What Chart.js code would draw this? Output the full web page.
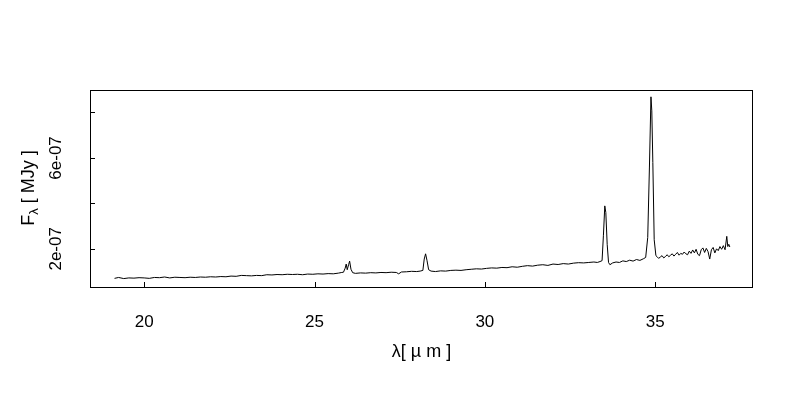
<!DOCTYPE html>
<html>
<head>
<meta charset="utf-8">
<script src="https://cdn.jsdelivr.net/npm/chart.js@4.4.1/dist/chart.umd.min.js"></script>
<style>
  html, body { margin: 0; background: #fff; }
  #wrap { width: 800px; height: 400px; }
</style>
</head>
<body>
<div id="wrap"><canvas id="spec"></canvas></div>
<script>
// spectrum: wavelength in micron, flux in units of 1e-07 MJy
const wavelength = [
  19.13, 19.25, 19.4, 19.55, 19.7, 19.85, 20.0, 20.15, 20.3, 20.45, 20.6, 20.75, 20.9, 21.05, 21.2, 21.35, 21.5, 21.65, 21.8, 21.95,
  22.1, 22.25, 22.4, 22.55, 22.7, 22.85, 23.0, 23.15, 23.3, 23.45, 23.6, 23.75, 23.9, 24.05, 24.2, 24.35, 24.5, 24.65, 24.8, 24.95,
  25.1, 25.25, 25.4, 25.55, 25.7, 25.8, 25.85, 25.9, 25.93, 25.96, 26.0, 26.03, 26.07, 26.12, 26.2, 26.35, 26.5, 26.65, 26.8, 26.95,
  27.1, 27.25, 27.4, 27.47, 27.55, 27.7, 27.85, 28.0, 28.1, 28.18, 28.22, 28.26, 28.3, 28.35, 28.42, 28.55, 28.7, 28.85, 29.0, 29.15,
  29.3, 29.45, 29.6, 29.75, 29.9, 30.05, 30.2, 30.35, 30.5, 30.65, 30.8, 30.95, 31.1, 31.25, 31.4, 31.55, 31.7, 31.85, 32.0, 32.15,
  32.3, 32.45, 32.6, 32.75, 32.9, 33.05, 33.2, 33.3, 33.38, 33.44, 33.48, 33.52, 33.55, 33.59, 33.63, 33.67, 33.75, 33.85, 33.95, 34.05,
  34.15, 34.25, 34.35, 34.45, 34.55, 34.65, 34.72, 34.78, 34.83, 34.875, 34.9, 34.93, 34.97, 35.02,
  35.05, 35.1, 35.15, 35.2, 35.25, 35.3, 35.35, 35.4, 35.45, 35.5, 35.55, 35.6, 35.65, 35.7, 35.75, 35.8, 35.85, 35.9, 35.95, 36.0,
  36.05, 36.1, 36.15, 36.2, 36.25, 36.3, 36.35, 36.4, 36.45, 36.5, 36.55, 36.6, 36.65, 36.7, 36.75, 36.8, 36.85, 36.9, 36.95, 37.0,
  37.05, 37.1, 37.13, 37.16, 37.19
];
const fluxE7 = [
  0.70, 0.74, 0.69, 0.72, 0.71, 0.73, 0.72, 0.70, 0.74, 0.73, 0.76, 0.72, 0.75, 0.74, 0.73, 0.75, 0.74, 0.76, 0.75, 0.77,
  0.76, 0.78, 0.77, 0.80, 0.79, 0.83, 0.82, 0.81, 0.83, 0.82, 0.86, 0.85, 0.87, 0.86, 0.88, 0.87, 0.88, 0.86, 0.89, 0.88,
  0.90, 0.89, 0.91, 0.90, 0.93, 0.96, 0.97, 1.15, 1.33, 1.08, 1.30, 1.46, 1.10, 0.95, 0.92, 0.94, 0.93, 0.95, 0.94, 0.96,
  0.95, 0.97, 0.96, 0.90, 0.98, 0.99, 1.01, 1.00, 1.02, 1.05, 1.55, 1.78, 1.50, 1.08, 1.02, 1.00, 1.03, 1.02, 1.05, 1.06,
  1.05, 1.08, 1.10, 1.12, 1.11, 1.14, 1.16, 1.15, 1.18, 1.17, 1.21, 1.19, 1.23, 1.26, 1.24, 1.28, 1.30, 1.27, 1.33, 1.31,
  1.35, 1.33, 1.37, 1.39, 1.38, 1.40, 1.42, 1.40, 1.44, 1.48, 2.60, 3.89, 3.60, 2.20, 1.40, 1.30, 1.38, 1.42, 1.40, 1.47,
  1.44, 1.50, 1.46, 1.53, 1.49, 1.56, 1.62, 2.50, 5.60, 8.69, 8.07, 5.80, 2.40, 1.70,
  1.66, 1.58, 1.64, 1.70, 1.60, 1.66, 1.74, 1.65, 1.72, 1.78, 1.68, 1.76, 1.84, 1.72, 1.80, 1.76, 1.86, 1.78, 1.74, 1.90,
  1.80, 1.95, 1.82, 1.98, 1.76, 1.70, 1.96, 2.04, 1.84, 2.02, 1.88, 1.55, 1.96, 2.06, 1.82, 2.00, 1.92, 2.10, 1.98, 2.14,
  1.96, 2.55, 2.10, 2.20, 2.08
];

const xTicks = [20, 25, 30, 35];
const yTicks = [2e-7, 4e-7, 6e-7, 8e-7];
const yTickLabels = ["2e-07", "", "6e-07", ""];

const FONT = '"Liberation Sans", Arial, Helvetica, sans-serif';

const points = wavelength.map((w, i) => ({ x: w, y: fluxE7[i] * 1e-7 }));

// box, inward tick marks, rotated y labels and axis titles, R style
const rFrame = {
  id: "rFrame",
  afterDraw(chart) {
    const { ctx, chartArea: a } = chart;
    const xs = chart.scales.x, ys = chart.scales.y;
    ctx.save();
    ctx.strokeStyle = "#000";
    ctx.lineWidth = 1;
    ctx.strokeRect(a.left + 0.5, a.top + 0.5, a.right - a.left - 1, a.bottom - a.top);

    ctx.beginPath();
    xTicks.forEach(v => {
      const px = Math.round(xs.getPixelForValue(v)) + 0.5;
      ctx.moveTo(px, a.bottom);
      ctx.lineTo(px, a.bottom - 5);
    });
    yTicks.forEach(v => {
      const py = Math.round(ys.getPixelForValue(v)) + 0.5;
      ctx.moveTo(a.left, py);
      ctx.lineTo(a.left + 5, py);
    });
    ctx.stroke();

    ctx.fillStyle = "#000";
    ctx.textAlign = "center";
    ctx.textBaseline = "middle";
    ctx.font = "17px " + FONT;
    yTicks.forEach((v, i) => {
      if (!yTickLabels[i]) return;
      ctx.save();
      ctx.translate(56, ys.getPixelForValue(v));
      ctx.rotate(-Math.PI / 2);
      ctx.fillText(yTickLabels[i], 0, 0);
      ctx.restore();
    });

    // x title
    ctx.font = "18px " + FONT;
    ctx.fillText("λ[ µ m ]", (a.left + a.right) / 2, 352);

    // y title with subscript lambda
    ctx.save();
    ctx.translate(29, 188);
    ctx.rotate(-Math.PI / 2);
    ctx.textAlign = "left";
    const big = "18px " + FONT, small = "13px " + FONT;
    ctx.font = big;
    const wF = ctx.measureText("F").width;
    const wRest = ctx.measureText(" [ MJy ]").width;
    ctx.font = small;
    const wL = ctx.measureText("λ").width;
    const x0 = -(wF + wL + wRest) / 2;
    ctx.font = big;
    ctx.fillText("F", x0, 0);
    ctx.font = small;
    ctx.fillText("λ", x0 + wF, 5);
    ctx.font = big;
    ctx.fillText(" [ MJy ]", x0 + wF + wL, 0);
    ctx.restore();

    ctx.restore();
  }
};

new Chart(document.getElementById("spec"), {
  type: "line",
  data: {
    datasets: [{
      data: points,
      borderColor: "#000",
      borderWidth: 1,
      pointRadius: 0,
      tension: 0,
      fill: false
    }]
  },
  options: {
    responsive: true,
    maintainAspectRatio: false,
    animation: false,
    events: [],
    layout: { padding: { top: 90, right: 47, left: 0, bottom: 0 } },
    plugins: {
      legend: { display: false },
      tooltip: { enabled: false }
    },
    scales: {
      x: {
        type: "linear",
        min: 18.41,
        max: 37.87,
        afterBuildTicks: s => { s.ticks = xTicks.map(v => ({ value: v })); },
        afterFit: s => { s.height = 113; },
        grid: { display: true, drawOnChartArea: false, drawTicks: false },
        border: { display: false },
        ticks: {
          color: "#000",
          font: { family: FONT, size: 17 },
          padding: 25,
          maxRotation: 0,
          autoSkip: false
        }
      },
      y: {
        type: "linear",
        min: 0.32e-7,
        max: 8.99e-7,
        afterBuildTicks: s => { s.ticks = yTicks.map(v => ({ value: v })); },
        afterFit: s => { s.width = 90; },
        grid: { display: false },
        border: { display: false },
        ticks: { display: false }
      }
    }
  },
  plugins: [rFrame]
});
</script>
</body>
</html>
